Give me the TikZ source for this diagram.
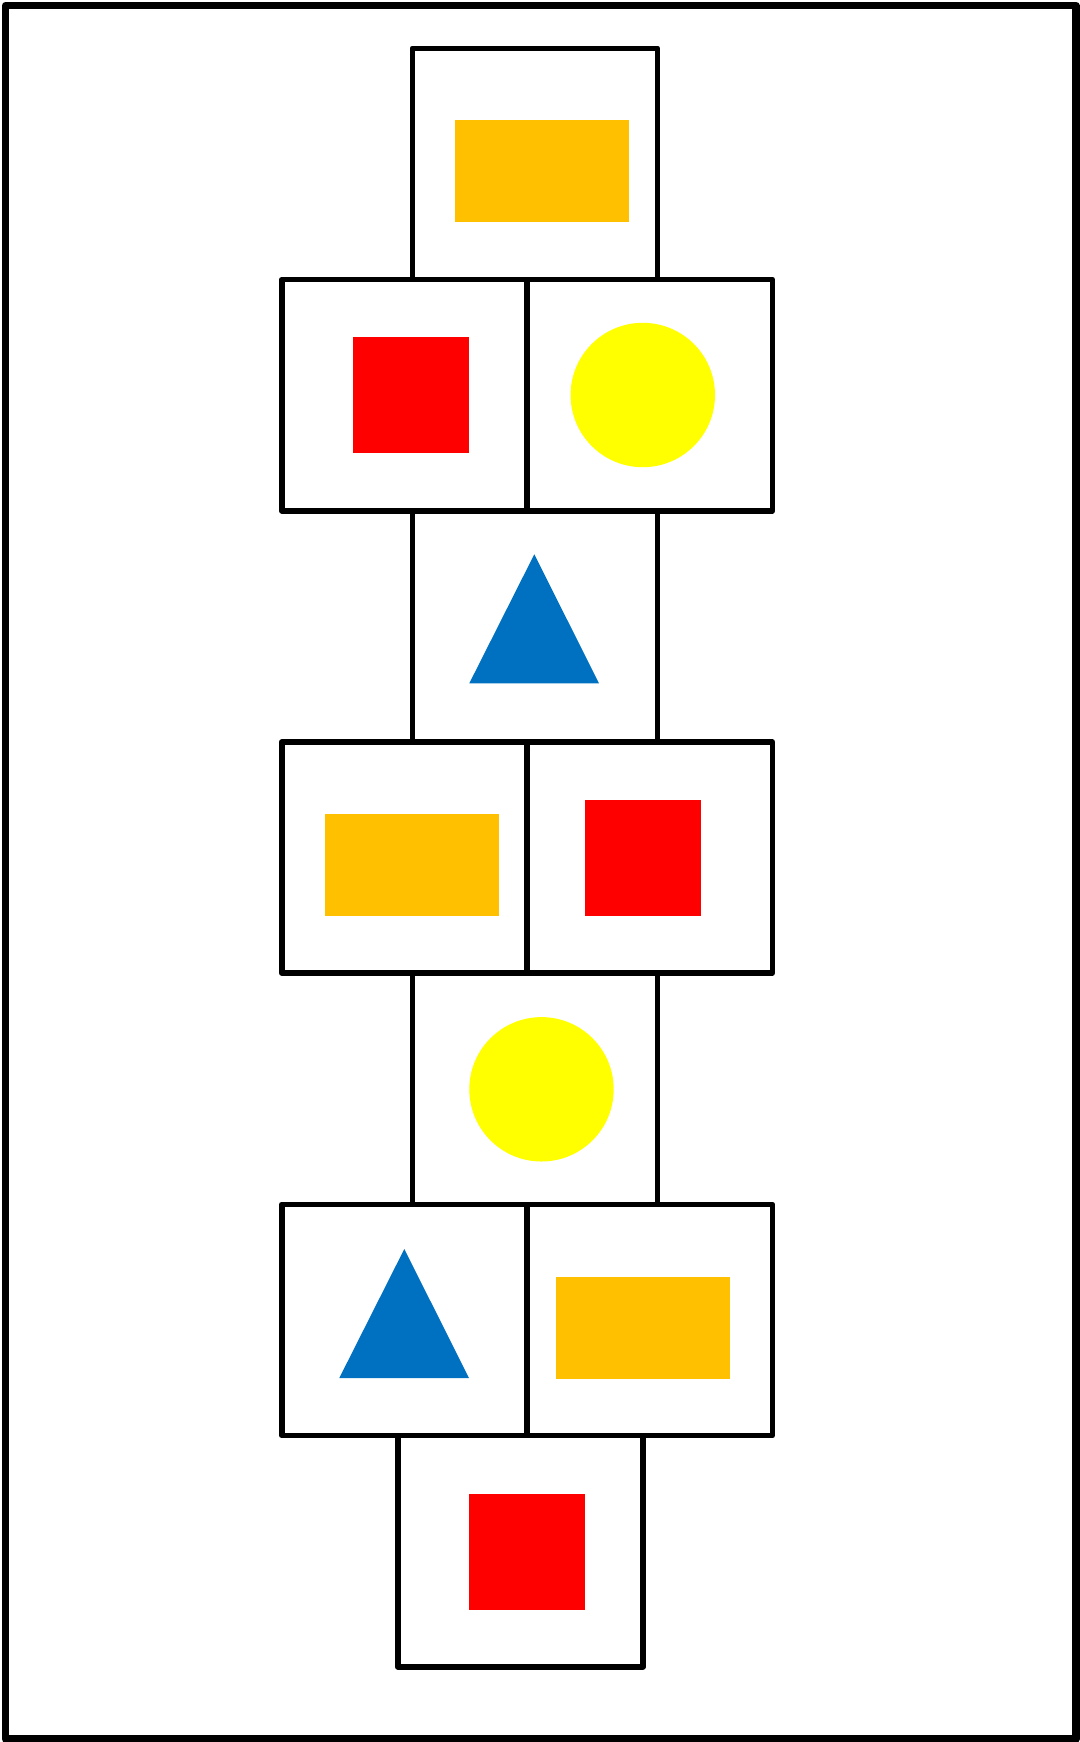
\documentclass[tikz,border=0pt]{standalone}
\usepackage{tikz}
\usetikzlibrary{positioning}
\definecolor{gold}{HTML}{FFC000}
\definecolor{ocean}{HTML}{0070C0}
\definecolor{sun}{HTML}{FFFF00}
\definecolor{brick}{HTML}{FF0000}

\begin{document}
\begin{tikzpicture}[x=0.5pt,y=-0.5pt,
    tile/.style={draw, line width=2.8pt, line join=round, minimum width=122.65pt, minimum height=115.6pt, inner sep=0pt, outer sep=0pt, anchor=north west},
    bar/.style={fill=gold, minimum width=87pt, minimum height=50.85pt, inner sep=0pt, anchor=north west},
    blk/.style={fill=brick, minimum size=58pt, inner sep=0pt, anchor=north west},
    dot/.style={circle, fill=sun, minimum size=72.2pt, inner sep=0pt}]
    \useasboundingbox (0,0) rectangle (1080,1742);
    \draw [line width=3.6pt, line join=round] (5.5,5.5) rectangle (1076,1739);
    % the tiles
    \foreach \n/\x/\y in {r1/412.3/48.3, r2a/281.7/279.5, r3/412.3/510.7, r4a/281.7/741.9, r5/412.3/973.1, r6a/281.7/1204.3, r7/397.7/1435.5}
        \node[tile] (\n) at (\x,\y) {};
    \foreach \n/\m in {r2a/r2b, r4a/r4b, r6a/r6b}
        \node[tile, right=0pt of \n] (\m) {};
    % the shapes
    \foreach \n/\x/\y in {o1/455/120, o4/325/814, o6/556/1277}
        \node[bar] (\n) at (\x,\y) {};
    \foreach \n/\x/\y in {s2/353/336.7, s4/585/800, s7/469/1494}
        \node[blk] (\n) at (\x,\y) {};
    \foreach \n/\x/\y in {c2/642.8/395, c5/541.5/1089.3}
        \node[dot] (\n) at (\x,\y) {};
    \foreach \x/\y in {534.3/554.3, 404.3/1249}
        \fill [ocean] (\x,\y) -- ++(-65,129) -- ++(129.7,0) -- cycle;
\end{tikzpicture}
\end{document}
